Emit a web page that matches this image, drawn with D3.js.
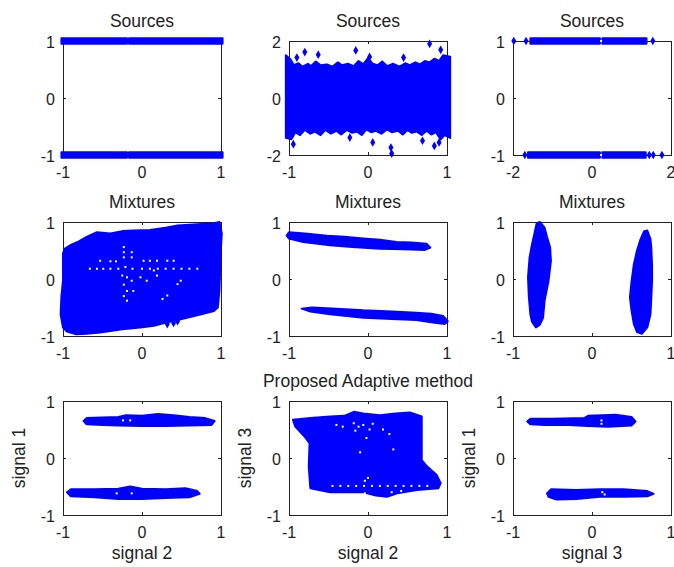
<!DOCTYPE html>
<html lang="en">
<head>
<meta charset="utf-8">
<title>Sources / Mixtures / Proposed Adaptive method</title>
<script type="text/javascript" src="https://cdnjs.cloudflare.com/ajax/libs/d3/7.8.5/d3.min.js"></script>
<style>
body { margin: 0; background: #fff; }
text { font-family: "Liberation Sans", Arial, sans-serif; fill: #222; }
.tick-label { font-size: 16px; }
.title, .label { font-size: 17.5px; }
.box { fill: none; stroke: #222; stroke-width: 1; }
.tick { stroke: #222; stroke-width: 1; }
.cloud { fill: #0000ff; stroke: #0000ff; stroke-width: 2; stroke-linejoin: round; }
.outlier { fill: #0000ff; }
.gap { fill: #fff; }
</style>
</head>
<body>
<div id="chart"></div>
<script type="text/javascript">

// ---- panel text / axes (row major, 3x3) ----
var titles  = ["Sources", "Sources", "Sources",
               "Mixtures", "Mixtures", "Mixtures",
               "", "Proposed Adaptive method", ""];
var xLabels = ["", "", "", "", "", "", "signal 2", "signal 2", "signal 3"];
var yLabels = ["", "", "", "", "", "", "signal 1", "signal 3", "signal 1"];
var xTicks  = [[-1,0,1], [-1,0,1], [-2,0,2], [-1,0,1], [-1,0,1], [-1,0,1], [-1,0,1], [-1,0,1], [-1,0,1]];
var yTicks  = [[-1,0,1], [-2,0,2], [-1,0,1], [-1,0,1], [-1,0,1], [-1,0,1], [-1,0,1], [-1,0,1], [-1,0,1]];

var sources1 = [
    [[-1.02,1.05],[-0.19,1.05],[-0.19,0.95],[-1.02,0.95]],
    [[-0.165,1.05],[1.02,1.05],[1.02,0.95],[-0.165,0.95]],
    [[-1.02,-0.95],[-0.19,-0.95],[-0.19,-1.05],[-1.02,-1.05]],
    [[-0.165,-0.95],[1.02,-0.95],[1.02,-1.05],[-0.165,-1.05]]
];
var sources2 = [[
    [-1.04,1.5],[-0.98,1.35],[-0.94,1.15],[-0.88,1.22],[-0.83,1.1],[-0.76,1.2],[-0.72,1.12],[-0.66,1.28],
    [-0.6,1.15],[-0.52,1.18],[-0.45,1.1],[-0.38,1.25],[-0.33,1.15],[-0.25,1.2],[-0.18,1.12],[-0.12,1.3],
    [-0.06,1.18],[0.0,1.4],[0.06,1.2],[0.12,1.15],[0.18,1.28],[0.24,1.12],[0.32,1.2],[0.4,1.1],
    [0.47,1.22],[0.53,1.15],[0.6,1.25],[0.66,1.18],[0.72,1.3],[0.78,1.25],[0.84,1.38],[0.9,1.3],
    [0.95,1.5],[1.04,1.45],
    [1.04,-1.4],[0.97,-1.3],[0.92,-1.45],[0.86,-1.2],[0.8,-1.28],[0.74,-1.15],[0.68,-1.3],[0.62,-1.18],
    [0.55,-1.22],[0.5,-1.12],[0.44,-1.28],[0.38,-1.15],[0.3,-1.2],[0.24,-1.1],[0.17,-1.25],[0.1,-1.15],
    [0.04,-1.2],[-0.02,-1.1],[-0.08,-1.3],[-0.14,-1.18],[-0.2,-1.22],[-0.27,-1.12],[-0.34,-1.28],
    [-0.4,-1.15],[-0.47,-1.25],[-0.54,-1.12],[-0.6,-1.3],[-0.67,-1.18],[-0.73,-1.25],[-0.8,-1.12],
    [-0.86,-1.3],[-0.92,-1.2],[-0.97,-1.45],[-1.04,-1.4]
]];
var sources3 = [
    [[-1.56,1.05],[0.2,1.05],[0.2,0.95],[-1.56,0.95]],
    [[0.26,1.05],[1.38,1.05],[1.38,0.95],[0.26,0.95]],
    [[-1.62,-0.95],[0.2,-0.95],[0.2,-1.05],[-1.62,-1.05]],
    [[0.26,-0.95],[1.36,-0.95],[1.36,-1.05],[0.26,-1.05]]
];
var mixtures1 = [[
    [-0.98,0.53],[-0.9,0.6],[-0.8,0.66],[-0.7,0.74],[-0.57,0.82],[-0.4,0.8],[-0.25,0.84],[-0.11,0.85],
    [0.1,0.86],[0.3,0.9],[0.45,0.94],[0.7,0.96],[0.91,0.98],[0.98,1.0],[1.01,0.8],[1.0,0.56],[0.99,0.2],
    [0.98,-0.21],[0.96,-0.5],[0.91,-0.56],[0.75,-0.62],[0.57,-0.68],[0.45,-0.72],[0.32,-0.76],
    [0.15,-0.82],[-0.02,-0.85],[-0.25,-0.88],[-0.53,-0.94],[-0.7,-0.96],[-0.83,-0.97],[-0.95,-0.92],
    [-1.0,-0.85],[-1.03,-0.62],[-1.02,-0.3],[-1.0,-0.03],[-1.0,0.3],[-1.0,0.45]
]];
var mixtures2 = [
    [[-1.03,0.76],[-1.0,0.82],[-0.8,0.8],[-0.52,0.76],[-0.3,0.74],[-0.06,0.71],[0.15,0.69],[0.36,0.65],
     [0.55,0.64],[0.74,0.62],[0.79,0.55],[0.72,0.51],[0.45,0.52],[0.15,0.53],[-0.2,0.56],[-0.48,0.59],
     [-0.82,0.65],[-1.0,0.71]],
    [[-0.84,-0.52],[-0.71,-0.5],[-0.4,-0.52],[-0.06,-0.55],[0.3,-0.57],[0.61,-0.59],[0.8,-0.61],
     [0.95,-0.65],[1.01,-0.74],[0.97,-0.79],[0.8,-0.76],[0.61,-0.72],[0.3,-0.7],[-0.06,-0.68],
     [-0.48,-0.62],[-0.73,-0.57]]
];
var mixtures3 = [
    [[-0.66,1.0],[-0.6,0.9],[-0.57,0.74],[-0.53,0.55],[-0.52,0.32],[-0.55,-0.03],[-0.6,-0.38],
     [-0.62,-0.68],[-0.66,-0.8],[-0.71,-0.85],[-0.76,-0.75],[-0.78,-0.62],[-0.8,-0.3],[-0.81,0.03],
     [-0.79,0.38],[-0.76,0.6],[-0.73,0.79],[-0.7,0.98]],
    [[0.7,0.85],[0.74,0.7],[0.75,0.56],[0.76,0.25],[0.76,-0.03],[0.75,-0.35],[0.74,-0.62],[0.7,-0.85],
     [0.63,-0.96],[0.57,-0.93],[0.53,-0.79],[0.5,-0.55],[0.48,-0.32],[0.5,-0.05],[0.53,0.26],
     [0.57,0.5],[0.61,0.68],[0.66,0.84]]
];
var adaptive1 = [
    [[-0.74,0.65],[-0.7,0.7],[-0.5,0.71],[-0.3,0.72],[-0.2,0.75],[0.0,0.74],[0.2,0.77],[0.4,0.75],
     [0.6,0.72],[0.8,0.7],[0.92,0.65],[0.88,0.58],[0.6,0.57],[0.3,0.56],[0.0,0.56],[-0.3,0.57],
     [-0.5,0.58],[-0.7,0.59]],
    [[-0.95,-0.6],[-0.9,-0.55],[-0.6,-0.55],[-0.3,-0.54],[-0.15,-0.5],[0.0,-0.54],[0.3,-0.55],
     [0.55,-0.53],[0.7,-0.58],[0.73,-0.63],[0.6,-0.69],[0.3,-0.7],[0.0,-0.72],[-0.3,-0.72],
     [-0.6,-0.69],[-0.9,-0.67]]
];
var adaptive2 = [[
    [-0.95,0.67],[-0.73,0.7],[-0.48,0.73],[-0.3,0.74],[-0.18,0.81],[-0.06,0.78],[0.15,0.75],
    [0.35,0.78],[0.53,0.8],[0.68,0.73],[0.68,-0.04],[0.75,-0.15],[0.87,-0.3],[0.92,-0.44],
    [0.89,-0.53],[0.62,-0.56],[0.37,-0.62],[0.24,-0.68],[0.1,-0.66],[-0.06,-0.6],[-0.48,-0.6],
    [-0.73,-0.53],[-0.75,-0.15],[-0.74,0.26],[-0.8,0.37],[-0.92,0.55]
]];
var adaptive3 = [
    [[-0.82,0.64],[-0.78,0.69],[-0.5,0.69],[-0.1,0.7],[-0.05,0.74],[0.3,0.76],[0.5,0.72],[0.55,0.64],
     [0.5,0.57],[0.2,0.55],[-0.05,0.56],[-0.3,0.58],[-0.6,0.58],[-0.78,0.59]],
    [[-0.57,-0.62],[-0.52,-0.55],[-0.2,-0.56],[0.1,-0.55],[0.4,-0.55],[0.7,-0.58],[0.78,-0.63],
     [0.7,-0.67],[0.4,-0.68],[0.1,-0.68],[-0.2,-0.72],[-0.45,-0.73],[-0.55,-0.68]]
];

// single markers standing out of the clouds
var outliers = [
    [],
    [[-0.8,1.61],[-0.63,1.52],[-0.155,1.67],[0.02,1.44],[0.78,1.9],[0.92,1.69],[-0.9,1.42],[0.45,1.42],
     [-0.945,-1.62],[-0.23,-1.39],[0.06,-1.56],[0.29,-1.74],[0.3,-1.95],[0.69,-1.5],[0.84,-1.68],[0.9,-1.56]],
    [[-1.98,1],[-1.67,1],[1.54,1],[-1.7,-1],[1.45,-1],[1.55,-1],[1.77,-1]],
    [[0.32,-0.79],[0.4,-0.77],[0.45,-0.74]],
    [], [], [], [], []
];

// white holes inside the clouds
var gaps = [
    [], [], [[0.23,1],[0.23,-1]],
    [[-0.23,0.56],[-0.23,0.47],[-0.13,0.47],[-0.23,0.38],[-0.13,0.38],[-0.53,0.32],[-0.4,0.31],[-0.33,0.31],
     [0.02,0.32],[0.1,0.32],[0.19,0.32],[0.32,0.32],[0.4,0.32],[-0.66,0.18],[-0.57,0.18],[-0.49,0.18],
     [-0.4,0.18],[-0.3,0.18],[-0.21,0.21],[-0.12,0.18],[0.0,0.18],[0.1,0.18],[0.2,0.18],[0.3,0.18],
     [0.4,0.18],[0.5,0.18],[0.6,0.18],[0.7,0.18],[-0.19,0.03],[-0.13,-0.03],[-0.25,0.06],[0.15,0.15],
     [0.19,0.06],[0.06,-0.03],[-0.02,0.03],[0.32,-0.29],[0.26,-0.35],[0.49,-0.03],[0.45,-0.09],
     [-0.19,-0.21],[-0.19,-0.38],[-0.11,-0.21],[-0.23,-0.1],[-0.23,-0.3]],
    [], [],
    [[-0.24,0.66],[-0.15,0.66],[-0.32,-0.62],[-0.13,-0.62]],
    [[-0.4,0.58],[-0.32,0.55],[-0.18,0.61],[-0.12,0.55],[-0.16,0.48],[-0.06,0.58],[0.02,0.5],[0.06,0.6],
     [0.19,0.5],[0.27,0.42],[-0.02,0.35],[-0.1,0.1],[0.32,0.15],[-0.45,-0.49],[-0.35,-0.49],
     [-0.25,-0.49],[-0.15,-0.49],[-0.05,-0.49],[0.05,-0.49],[0.15,-0.49],[0.25,-0.49],[0.35,-0.49],
     [0.45,-0.49],[0.55,-0.49],[0.65,-0.49],[0.75,-0.49],[-0.04,-0.4],[0.0,-0.35],[-0.04,-0.62],
     [0.3,-0.6],[0.42,-0.58]],
    [[0.12,0.66],[0.12,0.6],[0.13,-0.6],[0.16,-0.64]]
];

var clouds = [sources1, sources2, sources3, mixtures1, mixtures2, mixtures3, adaptive1, adaptive2, adaptive3];

// ---- layout ----
var colLeft = [63, 289, 513],
    rowTop = [41, 222, 401],
    boxW = 158,
    boxH = 114;

var svg = d3.select("#chart").append("svg")
    .attr("width", 674)
    .attr("height", 567);

var diamond = d3.symbol().type(d3.symbolDiamond).size(22);

function panel(k) {
    var r = Math.floor(k / 3), c = k % 3;
    var xt = xTicks[k], yt = yTicks[k];

    var x = d3.scaleLinear().domain([xt[0], xt[2]]).range([0, boxW]);
    var y = d3.scaleLinear().domain([yt[0], yt[2]]).range([boxH, 0]);

    var g = svg.append("g")
        .attr("transform", "translate(" + colLeft[c] + "," + rowTop[r] + ")");

    g.append("rect")
        .attr("class", "box")
        .attr("x", 0.5).attr("y", 0.5)
        .attr("width", boxW).attr("height", boxH);

    // inward ticks on all four sides
    xt.forEach(function(v) {
        g.append("line").attr("class", "tick")
            .attr("x1", x(v) + 0.5).attr("x2", x(v) + 0.5).attr("y1", boxH).attr("y2", boxH - 3);
        g.append("line").attr("class", "tick")
            .attr("x1", x(v) + 0.5).attr("x2", x(v) + 0.5).attr("y1", 0).attr("y2", 3);
    });
    yt.forEach(function(v) {
        g.append("line").attr("class", "tick")
            .attr("y1", y(v) + 0.5).attr("y2", y(v) + 0.5).attr("x1", 0).attr("x2", 3);
        g.append("line").attr("class", "tick")
            .attr("y1", y(v) + 0.5).attr("y2", y(v) + 0.5).attr("x1", boxW).attr("x2", boxW - 3);
    });

    g.selectAll(".xtl").data(xt).enter().append("text")
        .attr("class", "tick-label")
        .attr("x", function(d) { return x(d); })
        .attr("y", boxH + 23)
        .attr("text-anchor", "middle")
        .text(function(d) { return d; });

    g.selectAll(".ytl").data(yt).enter().append("text")
        .attr("class", "tick-label")
        .attr("x", -8)
        .attr("y", function(d) { return y(d) + 7; })
        .attr("text-anchor", "end")
        .text(function(d) { return d; });

    if (titles[k]) {
        g.append("text").attr("class", "title")
            .attr("x", boxW / 2).attr("y", -14)
            .attr("text-anchor", "middle")
            .text(titles[k]);
    }
    if (xLabels[k]) {
        g.append("text").attr("class", "label")
            .attr("x", boxW / 2).attr("y", boxH + 44)
            .attr("text-anchor", "middle")
            .text(xLabels[k]);
    }
    if (yLabels[k]) {
        g.append("text").attr("class", "label")
            .attr("transform", "translate(-38," + (boxH / 2) + ") rotate(-90)")
            .attr("text-anchor", "middle")
            .text(yLabels[k]);
    }

    var line = d3.line()
        .x(function(d) { return x(d[0]); })
        .y(function(d) { return y(d[1]); })
        .curve(d3.curveLinearClosed);

    g.selectAll(".cloud").data(clouds[k]).enter().append("path")
        .attr("class", "cloud")
        .attr("d", line);

    g.selectAll(".outlier").data(outliers[k]).enter().append("path")
        .attr("class", "outlier")
        .attr("transform", function(d) { return "translate(" + x(d[0]) + "," + y(d[1]) + ")"; })
        .attr("d", diamond);

    g.selectAll(".gap").data(gaps[k]).enter().append("rect")
        .attr("class", "gap")
        .attr("x", function(d) { return x(d[0]) - 1; })
        .attr("y", function(d) { return y(d[1]) - 1; })
        .attr("width", 2).attr("height", 2);
}

for (var k = 0; k < 9; k++) panel(k);

</script>
</body>
</html>
